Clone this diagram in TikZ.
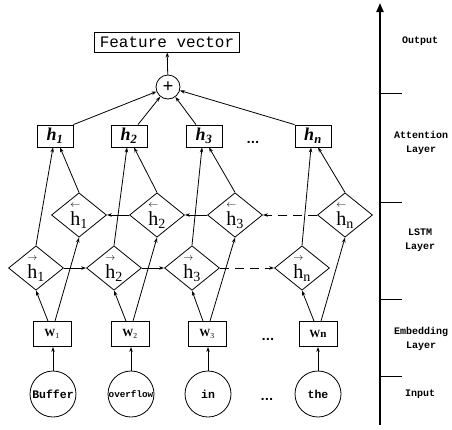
\documentclass[tikz,border=0pt]{standalone}
\usepackage{amsmath}
\usepackage{fontspec}
\setmainfont{Liberation Serif}
\newfontfamily\monofont{Liberation Mono}
\newfontfamily\dotfont{DejaVu Sans}
\usetikzlibrary{shapes.geometric,arrows.meta}
\newcommand{\hfw}[1]{$\overset{\scriptscriptstyle\rightarrow}{\text{h}}_{\text{#1}}$}
\newcommand{\hbw}[1]{$\overset{\scriptscriptstyle\leftarrow}{\text{h}}_{\text{#1}}$}
\newcommand{\hatt}[1]{\textbf{\textit{h\textsubscript{#1}}}}
\newcommand{\wemb}[1]{\textbf{W}\textsubscript{#1}}
\tikzset{
  featbox/.style={draw, minimum width=145pt, minimum height=20pt, inner sep=0pt, font=\monofont\fontsize{16}{18}\selectfont},
  sumnode/.style={draw, circle, minimum size=24pt, inner sep=0pt, font=\bfseries\fontsize{19}{21}\selectfont},
  attbox/.style={draw, minimum width=36pt, minimum height=22pt, inner sep=0pt, font=\fontsize{18}{20}\selectfont},
  lstm/.style={draw, diamond, minimum width=55pt, minimum height=44pt, inner sep=0pt, font=\fontsize{20}{22}\selectfont},
  embbox/.style={draw, minimum width=38pt, minimum height=25pt, inner sep=0pt, font=\fontsize{11}{13}\selectfont},
  word/.style={draw, circle, minimum size=46pt, inner sep=0pt, font=\monofont\bfseries\fontsize{11.5}{13}\selectfont},
  layer/.style={align=center, font=\monofont\bfseries\fontsize{10}{14}\selectfont},
  more/.style={font=\dotfont\bfseries\fontsize{11}{12}\selectfont},
  link/.style={-{Stealth[length=5pt,width=3.5pt]}, line width=0.8pt},
  every node/.style={line width=0.8pt}
}
\begin{document}
\begin{tikzpicture}[x=1pt,y=-1pt]
\useasboundingbox (0,0) rectangle (452,429);
\node[featbox] (fv) at (167,42) {Feature vector};
\node[sumnode] (sum) at (168,87) {+};
% attention layer
\node[attbox] (a1) at (55,136) {\hatt{1}};
\node[attbox] (a2) at (129,136) {\hatt{2}};
\node[attbox] (a3) at (204,136) {\hatt{3}};
\node[attbox] (a4) at (313,136) {\hatt{n}};
\node[more] (adots) at (253,142) {...};
% lstm layer
\node[lstm] (b1) at (79,215) {\hbw{1}};
\node[lstm] (b2) at (157,215) {\hbw{2}};
\node[lstm] (b3) at (235,215) {\hbw{3}};
\node[lstm] (b4) at (345,215) {\hbw{n}};
\node[lstm] (f1) at (36,268) {\hfw{1}};
\node[lstm] (f2) at (114,268) {\hfw{2}};
\node[lstm] (f3) at (192,268) {\hfw{3}};
\node[lstm] (f4) at (302,268) {\hfw{n}};
% embedding and input
\node[embbox] (w1) at (52,334) {\wemb{1}};
\node[embbox] (w2) at (130,334) {\wemb{2}};
\node[embbox] (w3) at (207,334) {\wemb{3}};
\node[embbox] (w4) at (318,334) {\textbf{Wn}};
\node[more] (wdots) at (268,339) {...};
\node[word] (c1) at (53,394) {Buffer};
\node[word, font=\monofont\bfseries\fontsize{9.3}{11}\selectfont] (c2) at (131,394) {overflow};
\node[word] (c3) at (208,394) {in};
\node[word] (c4) at (318,394) {the};
\node[more] (cdots) at (267,399) {...};

\draw[link] (c1.north) -- (c1.north |- w1.south);
\draw[link] (c2.north) -- (c2.north |- w2.south);
\draw[link] (c3.north) -- (c3.north |- w3.south);
\draw[link] (c4.north) -- (c4.north |- w4.south);
\draw[link] ([xshift=-4pt]w1.north) -- (f1.south);
\draw[link] ([xshift=-4pt]w2.north) -- (f2.south);
\draw[link] ([xshift=-4pt]w3.north) -- (f3.south);
\draw[link] ([xshift=-4pt]w4.north) -- (f4.south);
\draw[link] ([xshift=3pt]w1.north) -- (b1.south);
\draw[link] ([xshift=3pt]w2.north) -- (b2.south);
\draw[link] ([xshift=3pt]w3.north) -- (b3.south);
\draw[link] ([xshift=3pt]w4.north) -- (b4.south);
\draw[link] (f1) -- (f2);
\draw[link] (f2) -- (f3);
\draw[link, dash pattern=on 9pt off 6pt] (f3) -- (f4);
\draw[link] (b2) -- (b1);
\draw[link] (b3) -- (b2);
\draw[link, dash pattern=on 9pt off 6pt] (b4) -- (b3);
\draw[link] (f1.north) -- ([xshift=-2pt]a1.south);
\draw[link] (f2.north) -- ([xshift=-2pt]a2.south);
\draw[link] (f3.north) -- ([xshift=-2pt]a3.south);
\draw[link] (f4.north) -- ([xshift=-2pt]a4.south);
\draw[link] (b1.north) -- ([xshift=5pt]a1.south);
\draw[link] (b2.north) -- ([xshift=5pt]a2.south);
\draw[link] (b3.north) -- ([xshift=5pt]a3.south);
\draw[link] (b4.north) -- ([xshift=5pt]a4.south);
\draw[link] (a1.north east) -- (sum);
\draw[link] ([xshift=9pt]a2.north) -- (sum);
\draw[link] ([xshift=-8pt]a3.north) -- (sum);
\draw[link] (a4.north west) -- (sum);
\draw[link] (sum) -- (fv);

% layer axis
\coordinate (axbot) at (380,425);
\coordinate (axtop) at (380,3);
\draw[line width=2pt, -{Triangle[length=9pt,width=7pt]}] (axbot) -- (axtop);
\draw[line width=0.8pt] (380,93) -- (402,93);
\draw[line width=0.8pt] (380,202) -- (402,202);
\draw[line width=0.8pt] (380,299) -- (402,299);
\draw[line width=0.8pt] (380,376) -- (402,376);
\node[layer] (lout) at (420,41) {Output};
\node[layer] (latt) at (421,143) {Attention\\Layer};
\node[layer] (llstm) at (420,240) {LSTM\\Layer};
\node[layer] (lemb) at (421,339) {Embedding\\Layer};
\node[layer] (lin) at (420,394) {Input};
\end{tikzpicture}
\end{document}
